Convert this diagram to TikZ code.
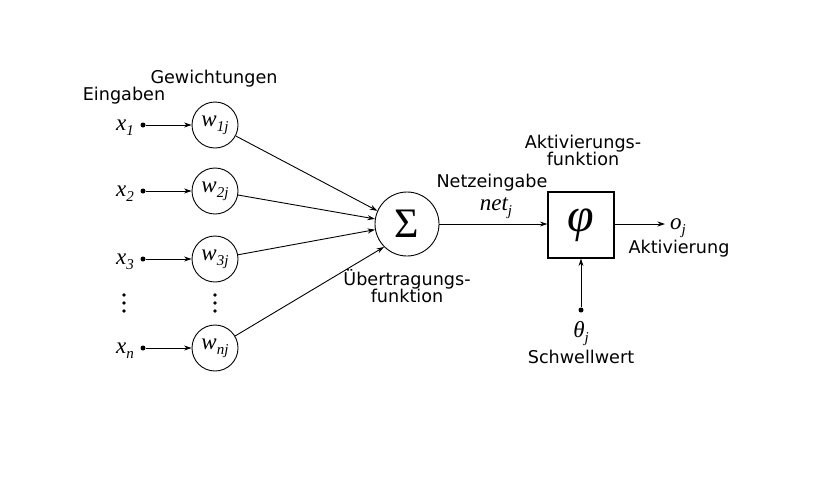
\documentclass[tikz,border=0pt]{standalone}
\usepackage{fontspec}
\setsansfont{DejaVu Sans}
\newfontfamily\tms{Liberation Serif}
\usetikzlibrary{arrows.meta}
\newcommand\mlab[2]{{\fontsize{23}{23}\selectfont\tms\itshape #1}\raisebox{-5pt}{\fontsize{15}{15}\selectfont\tms\itshape #2}}
\tikzset{
  lbl/.style={font=\sffamily\fontsize{17.6}{17.6}\selectfont, inner sep=0pt, anchor=base},
  wnode/.style={circle, draw, line width=0.9pt, minimum size=46pt, inner sep=0pt},
  arr/.style={line width=0.9pt, -{Stealth[length=7.5pt,width=5pt]}},
  dotc/.style={circle, fill, inner sep=0pt, minimum size=5pt},
  xlab/.style={inner sep=0pt, anchor=base},
}
\begin{document}
\begin{tikzpicture}[x=1pt,y=-1pt]
\useasboundingbox (0,0) rectangle (840,477);
% labels top-left
\node[lbl] (eing) at (124,100) {Eingaben};
\node[lbl] (gew) at (214,83) {Gewichtungen};
% inputs
\foreach \i/\s/\y in {1/1/125, 2/2/191, 3/3/259, n/n/348} {
  \node[xlab] (x\i) at (125,\y+5) {\mlab{x}{\s}};
  \node[dotc] (d\i) at (143,\y) {};
  \node[wnode] (w\i) at (215,\y) {\mlab{w}{\s j}};
  \draw[arr] (d\i) -- (w\i);
}
% vertical ellipses
\foreach \xx in {124,215} {
  \fill (\xx,295) circle (1.8);
  \fill (\xx,303) circle (1.8);
  \fill (\xx,311) circle (1.8);
}
% sum node
\node[circle, draw, line width=0.9pt, minimum size=64pt, inner sep=0pt] (s) at (407,224) {\fontsize{42}{42}\selectfont\tms Σ};
\draw[arr] (w1) -- (s.156);
\draw[arr] (w2) -- (s.171);
\draw[arr] (w3) -- (s.190);
\draw[arr] (wn) -- (s.225);
\node[lbl] (ue1) at (407,285) {Übertragungs-};
\node[lbl] (ue2) at (407,302) {funktion};
% activation box
\node[draw, line width=1.2pt, minimum size=66pt, inner sep=0pt] (phi) at (581,225) {\fontsize{48}{48}\selectfont\tms\itshape φ};
\draw[arr] (s) -- (phi.west |- s);
\node[lbl] (netz) at (492,187) {Netzeingabe};
\node[xlab] (net) at (496,210) {\mlab{net}{j}};
\node[lbl] (akt1) at (583,148) {Aktivierungs-};
\node[lbl] (akt2) at (583,165) {funktion};
% output
\coordinate (oend) at (665,224);
\draw[arr] (phi.east |- oend) -- (oend);
\node[xlab, anchor=base west] (o) at (670,229) {\mlab{o}{j}};
\node[lbl] (aktv) at (679,253) {Aktivierung};
% threshold
\node[dotc] (th) at (581,310) {};
\draw[arr] (th) -- (phi.south);
\node[xlab] (theta) at (581,337) {\mlab{θ}{j}};
\node[lbl] (schw) at (581,363) {Schwellwert};
\end{tikzpicture}
\end{document}
